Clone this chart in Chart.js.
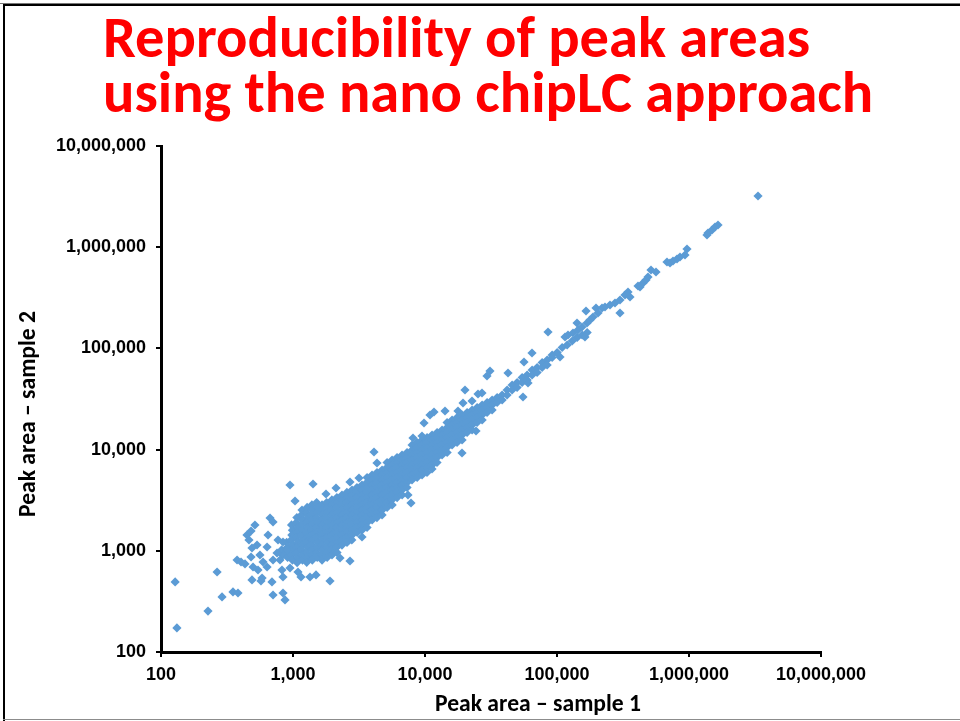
<!DOCTYPE html>
<html>
<head>
<meta charset="utf-8">
<title>Reproducibility of peak areas</title>
<script src="https://cdn.jsdelivr.net/npm/chart.js@4.4.1/dist/chart.umd.min.js"></script>
<style>
  html, body { margin: 0; padding: 0; background: #fff; }
  #wrap { width: 960px; height: 721px; }
</style>
</head>
<body>
<div id="wrap"><canvas id="grafico" width="960" height="721"></canvas></div>
<script>
const titleLines = ["Reproducibility of peak areas", "using the nano chipLC approach"];
const xTitle = "Peak area \u2013 sample 1";
const yTitle = "Peak area \u2013 sample 2";
const axisTicks = [100, 1000, 10000, 100000, 1000000, 10000000];

// [sample 1, sample 2] peak areas, main dense band
const bandPoints = [
  [820,1020],[835,905],
  [895,1210],[905,1080],[890,960],[910,860],
  [975,1800],[990,1600],[980,1430],[970,1280],[995,1140],[985,1020],[975,910],[990,810],
  [1070,2130],[1060,1900],[1080,1700],[1075,1520],[1065,1350],[1085,1210],[1070,1080],[1060,960],[1080,860],[1075,765],
  [1170,2530],[1160,2260],[1180,2010],[1165,1800],[1175,1600],[1160,1430],[1185,1280],[1170,1140],[1160,1020],[1175,910],[1180,810],
  [1280,2680],[1265,2390],[1290,2130],[1270,1900],[1285,1700],[1260,1520],[1280,1350],[1275,1210],[1290,1080],[1265,960],[1280,860],[1270,770],
  [1390,2840],[1400,2530],[1380,2260],[1395,2010],[1405,1800],[1385,1600],[1390,1430],[1400,1280],[1380,1140],[1395,1020],[1390,910],[1400,810],
  [1510,3000],[1530,2680],[1520,2390],[1505,2130],[1535,1900],[1515,1700],[1525,1520],[1510,1350],[1530,1210],[1520,1080],[1505,960],[1525,860],
  [1660,2840],[1650,2530],[1670,2260],[1655,2010],[1665,1800],[1645,1600],[1660,1430],[1670,1280],[1650,1140],[1665,1020],[1655,910],[1660,810],
  [1800,3000],[1820,2680],[1810,2390],[1795,2130],[1825,1900],[1805,1700],[1815,1520],[1800,1350],[1820,1210],[1810,1080],[1795,960],[1815,860],
  [1970,3180],[1985,2840],[1960,2530],[1980,2260],[1975,2010],[1990,1800],[1965,1600],[1980,1430],[1970,1280],[1985,1140],[1960,1020],[1975,910],
  [2150,3360],[2165,3000],[2140,2680],[2160,2390],[2155,2130],[2170,1900],[2145,1700],[2160,1520],[2150,1350],[2165,1210],[2140,1080],[2155,960],
  [2350,3560],[2365,3180],[2340,2840],[2355,2530],[2360,2260],[2345,2010],[2350,1800],[2370,1600],[2340,1430],[2355,1280],[2350,1140],
  [2560,3770],[2575,3360],[2550,3000],[2570,2680],[2565,2390],[2555,2130],[2580,1900],[2560,1700],[2570,1520],[2550,1350],[2565,1210],
  [2800,3990],[2815,3560],[2790,3180],[2805,2840],[2795,2530],[2810,2260],[2800,2010],[2785,1800],[2810,1600],[2800,1430],[2790,1280],
  [3050,4220],[3065,3770],[3040,3360],[3060,3000],[3055,2680],[3070,2390],[3045,2130],[3060,1900],[3050,1700],[3065,1520],
  [3330,4470],[3345,3990],[3320,3560],[3340,3180],[3335,2840],[3325,2530],[3350,2260],[3330,2010],[3340,1800],[3325,1600],
  [3640,5300],[3625,4730],[3650,4220],[3635,3770],[3645,3360],[3630,3000],[3640,2680],[3655,2390],[3630,2130],[3645,1900],[3640,1700],
  [3970,5610],[3985,5010],[3960,4470],[3975,3990],[3980,3560],[3965,3180],[3970,2840],[3990,2530],[3960,2260],[3975,2015],
  [4330,5940],[4345,5300],[4320,4730],[4340,4220],[4335,3770],[4325,3360],[4350,3000],[4330,2680],[4340,2390],[4325,2130],
  [4730,6290],[4745,5610],[4720,5010],[4735,4470],[4725,3990],[4740,3560],[4730,3180],[4715,2840],[4745,2530],[4730,2260],
  [5160,7460],[5145,6650],[5170,5940],[5155,5300],[5165,4730],[5150,4220],[5160,3770],[5175,3360],[5150,3000],[5165,2680],
  [5630,7890],[5615,7040],[5645,6290],[5625,5610],[5635,5010],[5620,4470],[5640,3990],[5630,3560],[5615,3180],[5640,2840],
  [6140,8350],[6155,7460],[6130,6650],[6150,5940],[6145,5300],[6135,4730],[6160,4220],[6140,3770],[6150,3360],
  [6700,8840],[6715,7890],[6690,7040],[6710,6290],[6705,5610],[6695,5010],[6720,4470],[6700,3990],[6710,3560],
  [7310,9360],[7325,8350],[7300,7460],[7320,6650],[7315,5940],[7305,5300],[7330,4730],[7310,4220],
  [7980,11100],[7985,9910],[7970,8840],[7990,7890],[7975,7040],[7980,6290],[7995,5610],[7970,5010],
  [8710,11750],[8695,10490],[8720,9360],[8705,8350],[8715,7460],[8700,6650],[8710,5940],[8725,5300],
  [9500,12440],[9515,11100],[9490,9910],[9510,8840],[9505,7890],[9495,7040],[9520,6290],[9500,5610],
  [10370,13170],[10350,11750],[10390,10490],[10360,9360],[10380,8350],[10365,7460],[10375,6650],[10360,5940],
  [11310,13940],[11330,12440],[11300,11100],[11320,9910],[11315,8840],[11305,7890],[11325,7040],
  [12350,14750],[12330,13170],[12360,11750],[12340,10490],[12355,9360],[12345,8350],[12335,7460],
  [13470,15620],[13490,13940],[13460,12440],[13480,11100],[13475,9910],[13465,8840],
  [14700,18520],[14720,16530],[14690,14750],[14710,13170],[14705,11750],[14695,10490],[14715,9360],
  [16040,19610],[16060,17500],[16030,15620],[16050,13940],[16045,12440],[16035,11100],
  [17500,20760],[17520,18520],[17490,16530],[17510,14750],[17505,13170],[17495,11750],
  [19100,21970],[19120,19610],[19090,17500],[19110,15620],[19105,13940],[19095,12440],
  [20840,23260],[20860,20760],[20830,18520],[20850,16530],[20845,14750],
  [22740,24620],[22760,21970],[22730,19610],[22750,17500],[22745,15620],
  [24820,26060],[24840,23260],[24810,20760],[24830,18520],
  [27080,27580],[27100,24620],[27070,21970],[27090,19610],
  [29550,29200],[29570,26060],[29540,23260],
  [32250,30900],[32270,27580],[32240,24620],
  [35190,32710],[35210,29200],
  [38400,34630],[38420,30900],
  [41900,38800],[41880,34630],
  [45720,43470],[45700,38800],
  [49890,46020],[49870,41070],
  [54440,51560],[54420,46020],
  [59400,54600],[59380,48710],
  [64820,61170],[64800,54600],
  [70730,64750],[70710,57790],
  [77180,72550],[77160,64750],
  [84220,76800],[84200,68540],
  [91900,86050],[91880,81290],
  [100300,91090],[109400,102060],[119400,108030],[130300,118300],
  [142200,128100],[155100,135600],[169300,143600]
];

// low-intensity tail below ~1,000
const lowTailPoints = [
  [128,492],[132,173],[227,254],[266,617],[290,350],[351,392],[383,383],[377,811],
  [404,775],[433,741],[448,1433],[464,1279],[481,1569],[489,1066],[515,1798],[481,868],
  [670,2110],[706,1926],[647,1433],[636,1090],[489,515],[572,503],[706,366],[840,383],
  [870,327],[498,692],[543,646],[583,538],[693,492],[706,811],[593,775],[636,692],
  [825,646],[840,551],[840,1222],[900,1018],[757,951],[797,811],[949,676],[534,1141],
  [770,1279],[562,909]
];

// points above the band (sample 2 > sample 1)
const upperPoints = [
  [949,4470],[1418,4570],[1036,3105],[1778,3640],[2118,4174],[2703,4784],[3162,5242],
  [4108,9470],[4329,7372],[8110,13020],[9490,13630],[9830,18310],[10910,21970],
  [11700,23520],[14180,24070],[17780,24070],[19410,28870],[20090,38800],[22710,30210],
  [25210,35430],[27030,36250],[29490,53370],[31070,59810],[42550,57130],[56230,73390],
  [64660,90060],[85490,145300]
];

// points below the band (sample 2 < sample 1)
const lowerPoints = [
  [1091,617],[1150,551],[1345,551],[1494,577],[1907,503],[2270,849],[2703,793],
  [3333,1369],[7431,3559],[7832,2967],[11300,6431],[19070,9256],[24350,15270],
  [55250,33100],[60310,45510],[105400,82220],[162900,129600]
];

// high-abundance end
const highEndPoints = [
  [115000,129600],[121200,135600],[132200,142000],[144200,152000],[154700,162700],
  [141800,178200],[168800,178200],[177800,190800],[187400,204300],[165900,234200],
  [197500,250700],[204500,223700],[219300,250700],[231000,256500],[252100,268500],
  [275000,281000],[300100,300800],[300100,223700],[327400,337100],[345100,360900],
  [357300,322100],[410900,413700],[425500,404400],[448300,442900],[472400,474200],
  [489100,507600],[515300,595300],[562300,568600],[681300,714100],[718000,698200],
  [756600,730500],[811100,764500],[854700,800300],[932600,837500],[965700,959800],
  [1369000,1320000],[1393000,1381000],[1494000,1479000],[1574000,1584000],
  [1659000,1657000],[3333000,3205000]
];

const allPoints = [].concat(bandPoints, lowTailPoints, upperPoints, lowerPoints, highEndPoints)
  .map(p => ({ x: p[0], y: p[1] }));

const headFont = 'Carlito, Calibri, Lato, "Open Sans", sans-serif';
const tickFont = { family: '"Liberation Sans", Arial, sans-serif', size: 18, weight: 'bold' };

// text squeezed horizontally so it takes a given width
function drawFitted(ctx, text, x, y, scaleX, align, angle) {
  ctx.save();
  ctx.translate(x, y);
  if (angle) ctx.rotate(angle);
  ctx.scale(scaleX, 1);
  ctx.textAlign = align;
  ctx.textBaseline = 'alphabetic';
  ctx.fillText(text, 0, 0);
  ctx.restore();
}

const slideText = {
  id: 'slideText',
  beforeDraw(chart) {
    const ctx = chart.ctx;
    ctx.save();
    ctx.fillStyle = '#ffffff';
    ctx.fillRect(0, 0, chart.width, chart.height);
    ctx.restore();
  },
  afterDraw(chart) {
    const ctx = chart.ctx;
    ctx.save();
    // slide frame
    ctx.fillStyle = '#777777';
    ctx.fillRect(0, 3, chart.width, 1);
    ctx.fillStyle = '#000000';
    ctx.fillRect(3, 4, chart.width - 3, 2);
    ctx.fillRect(3, 4, 2, chart.height - 4);
    ctx.fillStyle = '#8c8c8c';
    ctx.fillRect(3, 719, chart.width - 3, 1);

    // headline
    ctx.font = 'bold 58px ' + headFont;
    ctx.fillStyle = '#ff0000';
    const s = 707 / ctx.measureText(titleLines[0]).width;
    drawFitted(ctx, titleLines[0], 103, 57, s, 'left');
    drawFitted(ctx, titleLines[1], 103, 112, s, 'left');

    // axis titles
    ctx.font = 'bold 24px ' + headFont;
    ctx.fillStyle = '#000000';
    const a = 206 / ctx.measureText(xTitle).width;
    drawFitted(ctx, xTitle, 538, 711, a, 'center');
    drawFitted(ctx, yTitle, 35, 414, a, 'center', -Math.PI / 2);
    ctx.restore();
  }
};

function logAxis(extra) {
  return Object.assign({
    type: 'logarithmic',
    min: 100,
    max: 10000000,
    afterBuildTicks: (scale) => { scale.ticks = axisTicks.map(v => ({ value: v })); },
    ticks: {
      autoSkip: false,
      maxRotation: 0,
      color: '#000',
      font: tickFont,
      callback: (v) => Number(v).toLocaleString('en-US')
    },
    grid: { drawOnChartArea: false, drawTicks: true, tickLength: 5, color: '#000', lineWidth: 2 },
    border: { display: true, color: '#000', width: 3 }
  }, extra);
}

const xAxis = logAxis({ position: 'bottom', afterFit: (scale) => { scale.height = 69; } });
xAxis.ticks.padding = 7;
const yAxis = logAxis({ position: 'left', afterFit: (scale) => { scale.width = 161; } });
yAxis.ticks = Object.assign({}, yAxis.ticks, { padding: 10 });

let grafico = document.getElementById('grafico').getContext('2d');

var chart = new Chart(grafico, {
  type: 'scatter',
  data: {
    datasets: [{
      label: 'Peak area',
      data: allPoints,
      pointStyle: 'rectRot',
      pointRadius: 4.6,
      pointHoverRadius: 4.6,
      borderWidth: 0,
      backgroundColor: '#5b9bd5',
      borderColor: '#5b9bd5'
    }]
  },
  options: {
    responsive: false,
    animation: false,
    layout: { padding: { top: 146, right: 139, bottom: 0, left: 0 } },
    plugins: {
      legend: { display: false },
      title: { display: false },
      tooltip: { enabled: false }
    },
    scales: { x: xAxis, y: yAxis }
  },
  plugins: [slideText]
});
</script>
</body>
</html>
